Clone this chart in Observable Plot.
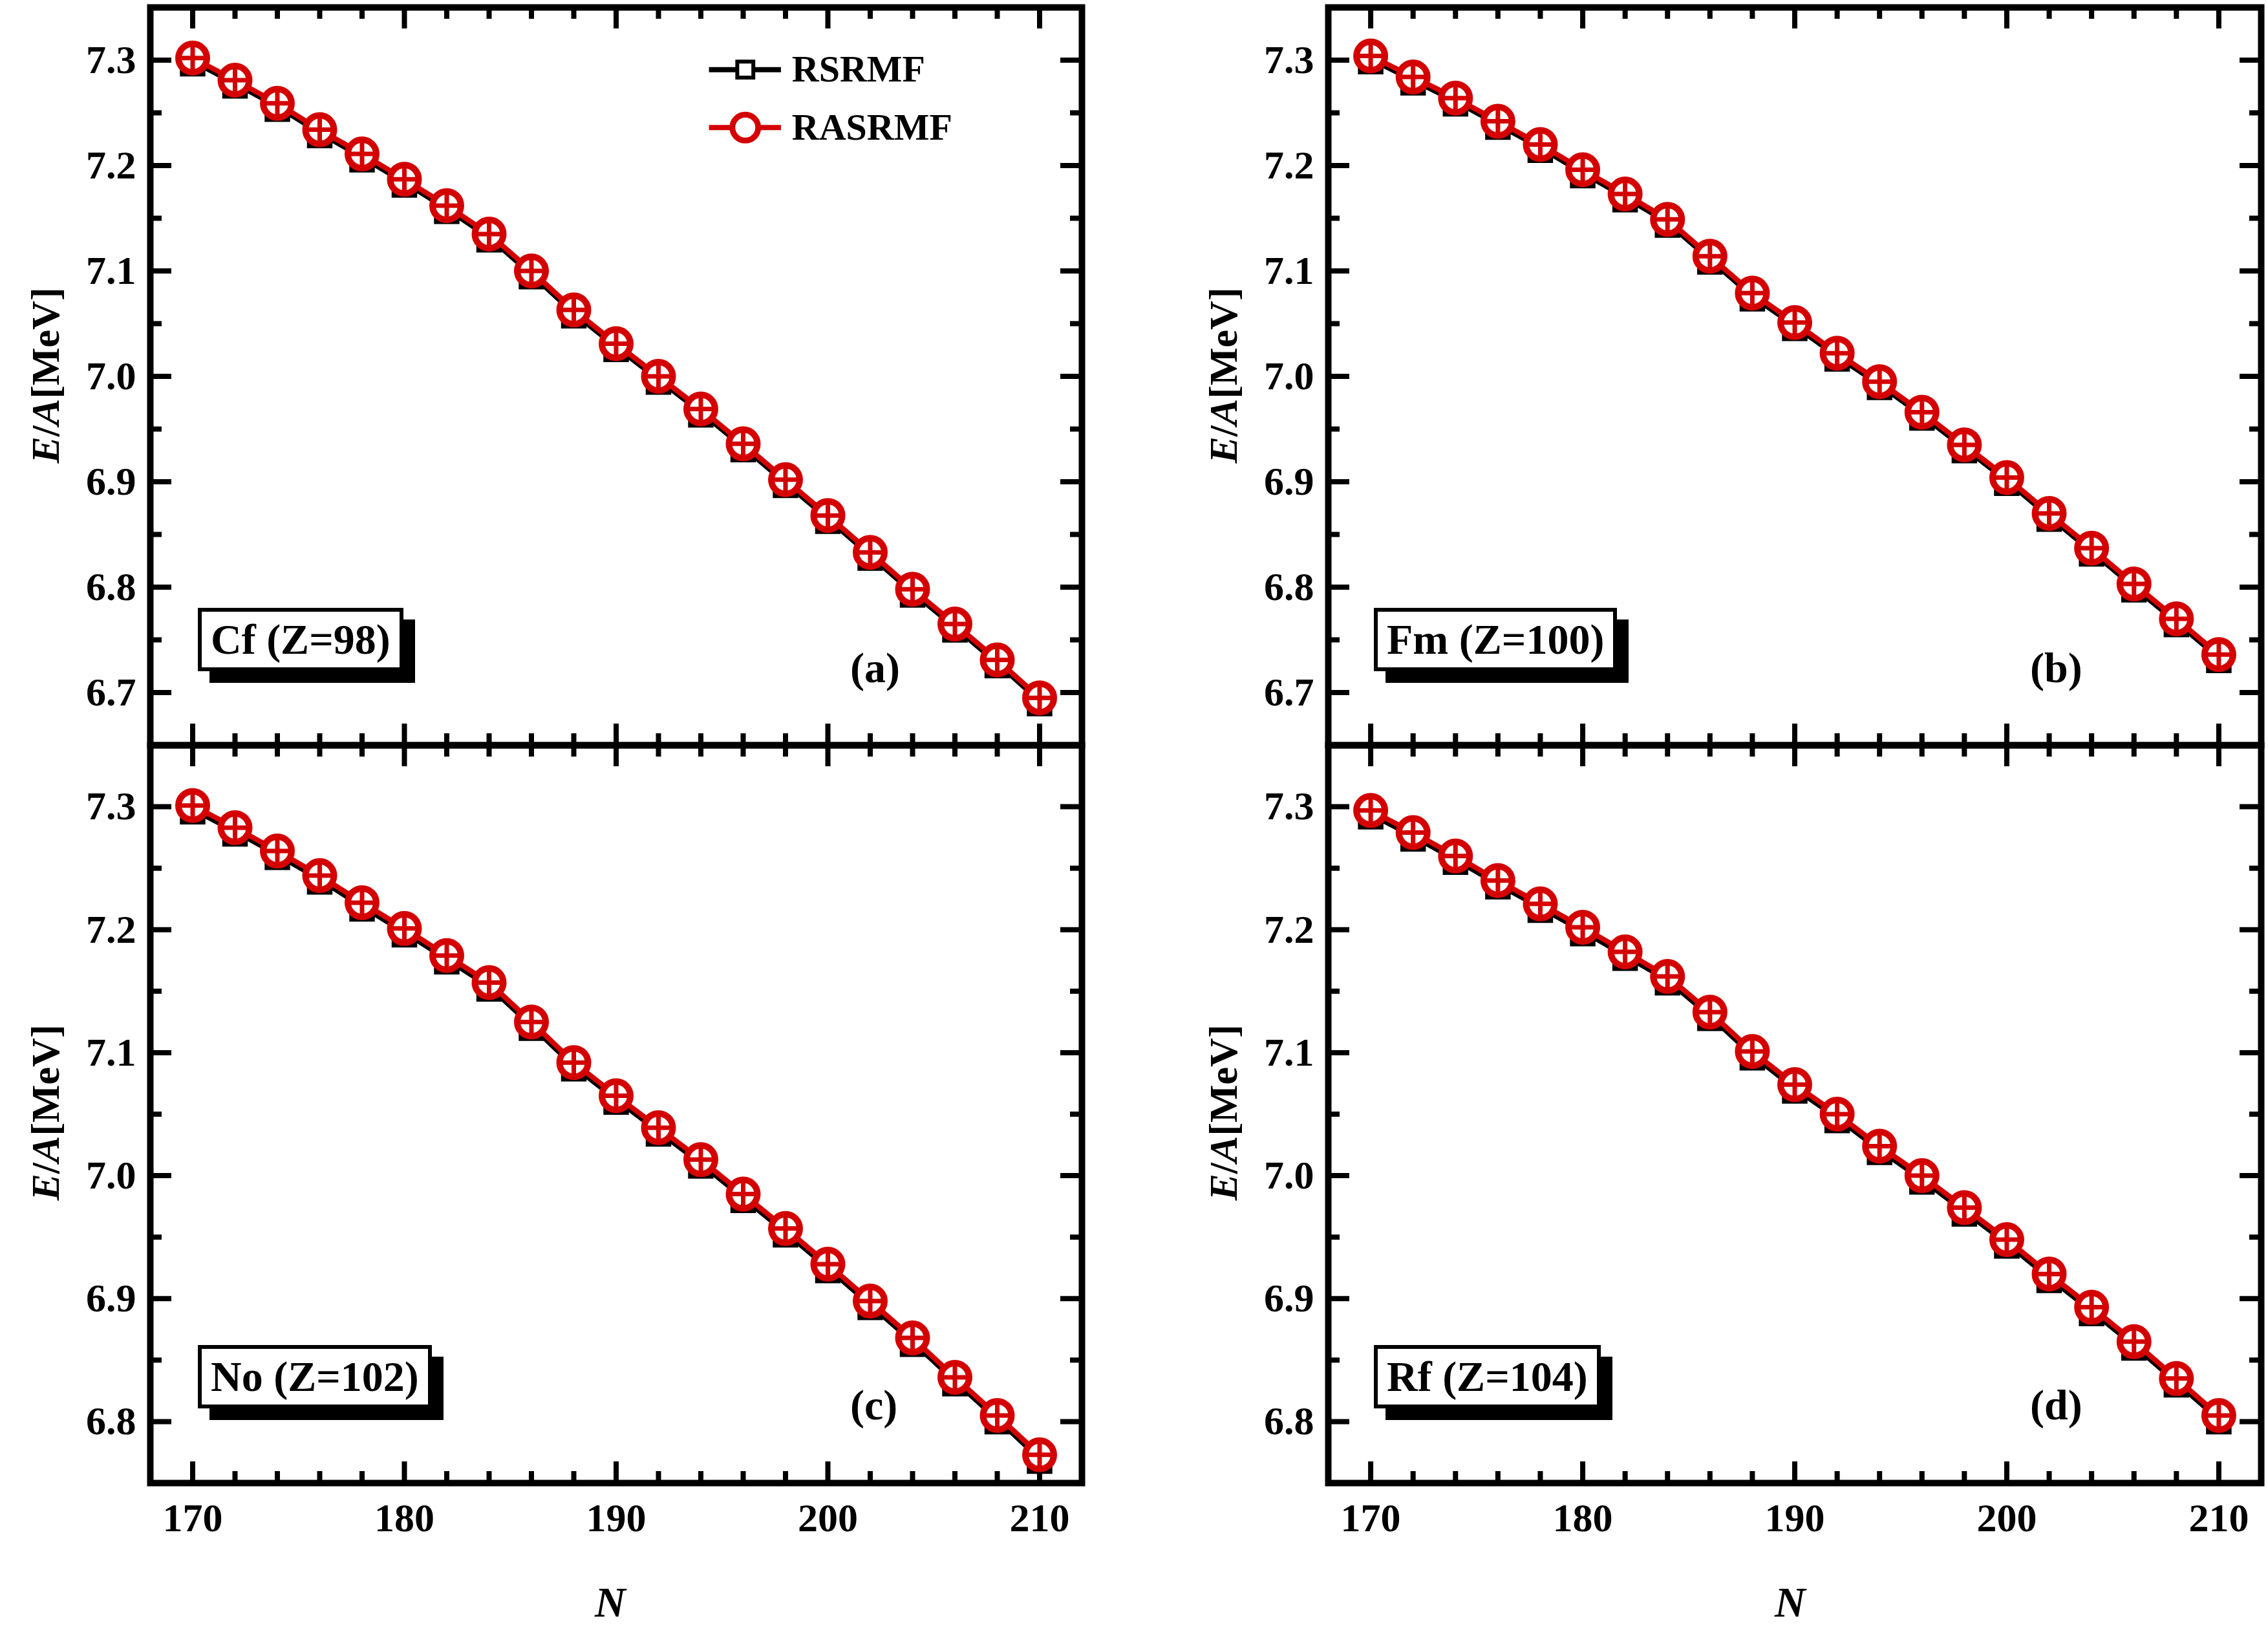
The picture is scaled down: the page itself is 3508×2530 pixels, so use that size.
<!DOCTYPE html>
<html><head><meta charset="utf-8">
<script src="https://cdn.jsdelivr.net/npm/d3@7"></script>
<script src="https://cdn.jsdelivr.net/npm/@observablehq/plot@0.6"></script>
<style>
body{margin:0;background:#fff;width:3508px;height:2530px;position:relative;overflow:hidden;font-family:"Liberation Serif","DejaVu Serif",serif;font-weight:bold}
.pl{position:absolute}
.box{position:absolute;background:#fff;border:6px solid #000;box-shadow:18px 18px 0 #000;font-size:66px;line-height:86px;padding:0 14px;white-space:nowrap}
.let{position:absolute;font-size:66px}
.yl{position:absolute;font-size:62px;transform:rotate(-90deg);transform-origin:center;white-space:nowrap}
.xl{position:absolute;font-size:66px;font-style:italic}
</style></head><body>
<script>
const N = [170,172,174,176,178,180,182,184,186,188,190,192,194,196,198,200,202,204,206,208,210];
const cf = [7.302,7.281,7.259,7.234,7.211,7.187,7.162,7.135,7.100,7.063,7.031,7.000,6.969,6.936,6.902,6.868,6.833,6.798,6.765,6.731,6.695];
const fm = [7.304,7.284,7.264,7.242,7.220,7.196,7.173,7.149,7.114,7.079,7.051,7.022,6.995,6.966,6.935,6.904,6.870,6.837,6.803,6.770,6.736];
const no = [7.301,7.283,7.264,7.244,7.222,7.201,7.179,7.157,7.125,7.092,7.065,7.039,7.013,6.985,6.957,6.928,6.898,6.868,6.836,6.805,6.773];
const rf = [7.297,7.279,7.260,7.240,7.221,7.202,7.182,7.162,7.133,7.101,7.074,7.050,7.024,7.000,6.974,6.948,6.920,6.893,6.865,6.835,6.805];
// RSRMF values (black) — nearly identical, marginally lower
const cfRS = cf.map(v=>v-0.003), fmRS = fm.map(v=>v-0.003), noRS = no.map(v=>v-0.003), rfRS = rf.map(v=>v-0.003);
const xMajor = [170,180,190,200,210];
const xMinor = d3.range(168,213,2).filter(v=>v%10!==0);
const yTicksTop = [6.7,6.8,6.9,7.0,7.1,7.2,7.3];
const yTicksBot = [6.8,6.9,7.0,7.1,7.2,7.3];
const legendNames = ["RSRMF","RASRMF"];

const FL=232, FR=1673, FL2=2054, FR2=3497, FT=11, FM=1152, FB=2293;
const RED="#d40000";

function panel({left, top, frameL, frameR, frameT, frameB, ydom, yt, ras, rs, xlabels, legend}){
  const mL=frameL-left, mT=frameT-top, iw=frameR-frameL, ih=frameB-frameT;
  const mB = xlabels?140:0;
  const xd=[168,212];
  const xl=(44)/iw, yl=(ydom[1]-ydom[0])/ih;
  const maj=33, mn=18;
  const yMinor=d3.range(Math.round(ydom[0]*20), Math.round(ydom[1]*20)+1).map(v=>v/20).filter(v=>Math.round(v*20)%2===1);
  const data = N.map((n,i)=>({n, a:ras[i], b:rs[i]}));
  const tick=(vals,len,axis)=> axis==="x" ? [
      Plot.ruleX(vals,{x:d=>d,y1:ydom[0],y2:ydom[0]+len*yl,stroke:"#000",strokeWidth:8}),
      Plot.ruleX(vals,{x:d=>d,y1:ydom[1],y2:ydom[1]-len*yl,stroke:"#000",strokeWidth:8})
    ] : [
      Plot.ruleY(vals,{y:d=>d,x1:xd[0],x2:xd[0]+len*xl,stroke:"#000",strokeWidth:8}),
      Plot.ruleY(vals,{y:d=>d,x1:xd[1],x2:xd[1]-len*xl,stroke:"#000",strokeWidth:8})
    ];
  const marks=[
    ...tick(xMajor,maj,"x"), ...tick(xMinor,mn,"x"),
    ...tick(yt,maj,"y"), ...tick(yMinor,mn,"y"),
    Plot.axisY({ticks:yt,tickSize:0,tickPadding:22,tickFormat:d3.format(".1f"),fontSize:62,fontWeight:"bold",label:null}),
    Plot.line(data,{x:"n",y:"b",stroke:"#000",strokeWidth:8}),
    Plot.dot(data,{x:"n",y:"b",symbol:"square",r:20,fill:"#000",stroke:"#000",strokeWidth:4,dy:4}),
    Plot.line(data,{x:"n",y:"a",stroke:RED,strokeWidth:8}),
    Plot.dot(data,{x:"n",y:"a",r:22,fill:"#fff",stroke:RED,strokeWidth:10}),
    Plot.ruleX(data,{x:"n",y:"a",dy:0,stroke:RED,strokeWidth:6,insetTop:0}),
    Plot.frame({stroke:"#000",strokeWidth:10})
  ];
  // crosses inside circles
  marks.splice(marks.length-2,1,
    Plot.tickX(data,{x:"n",y:"a",stroke:RED,strokeWidth:7}),
    Plot.tickY(data,{x:"n",y:"a",stroke:RED,strokeWidth:7}));
  if(xlabels) marks.push(Plot.axisX({ticks:xMajor,tickSize:0,tickPadding:30,fontSize:62,fontWeight:"bold",label:null}));
  if(legend){
    const lx1=194.4,lx2=197.8,lc=196.1,tx=198.3,ly1=7.291,ly2=7.236;
    marks.push(
      Plot.ruleY([ly1],{x1:lx1,x2:lx2,stroke:"#000",strokeWidth:8}),
      Plot.dot([lc],{x:d=>d,y:ly1,symbol:"square",r:14,fill:"#fff",stroke:"#000",strokeWidth:6}),
      Plot.dot([lc],{x:d=>d,y:ly1,symbol:"plus",r:12,fill:"#000"}),
      Plot.text([legendNames[0]],{x:tx,y:ly1,text:d=>d,textAnchor:"start",fontSize:58,fontWeight:"bold"}),
      Plot.ruleY([ly2],{x1:lx1,x2:lx2,stroke:RED,strokeWidth:8}),
      Plot.dot([lc],{x:d=>d,y:ly2,r:20,fill:"#fff",stroke:RED,strokeWidth:9}),
      Plot.dot([lc],{x:d=>d,y:ly2,symbol:"plus",r:15,fill:RED}),
      Plot.text([legendNames[1]],{x:tx,y:ly2,text:d=>d,textAnchor:"start",fontSize:58,fontWeight:"bold"})
    );
  }
  const p=Plot.plot({
    width:mL+iw+20, height:mT+ih+mB,
    marginLeft:mL, marginRight:20, marginTop:mT, marginBottom:mB,
    x:{domain:xd, axis:null}, y:{domain:ydom, axis:null},
    style:{fontFamily:"Liberation Serif, DejaVu Serif, serif",overflow:"visible",background:"transparent"},
    marks
  });
  p.classList.add("pl");
  p.style.left=left+"px"; p.style.top=top+"px";
  document.body.appendChild(p);
}
// tickX/tickY are band-based; use custom lengths via inset instead
Plot.tickX = (d,o)=>Plot.ruleX(d,{x:o.x,y:o.y,dy:0,stroke:o.stroke,strokeWidth:o.strokeWidth,y1:o.y,y2:o.y,marker:null,
  transform:null, ...{}}); 
</script>
<script>
// crosses are drawn as short rules in pixel offsets via text glyph-free approach
Plot.tickX = (d,o)=>Plot.dot(d,{x:o.x,y:o.y,symbol:{draw(c,s){const r=20;c.moveTo(0,-r);c.lineTo(0,r);}},r:20,stroke:o.stroke,strokeWidth:o.strokeWidth,fill:"none"});
Plot.tickY = (d,o)=>Plot.dot(d,{x:o.x,y:o.y,symbol:{draw(c,s){const r=20;c.moveTo(-r,0);c.lineTo(r,0);}},r:20,stroke:o.stroke,strokeWidth:o.strokeWidth,fill:"none"});

panel({left:0,top:0,frameL:FL,frameR:FR,frameT:FT,frameB:FM,ydom:[6.65,7.35],yt:yTicksTop,ras:cf,rs:cfRS,xlabels:false,legend:true});
panel({left:1822,top:0,frameL:FL2,frameR:FR2,frameT:FT,frameB:FM,ydom:[6.65,7.35],yt:yTicksTop,ras:fm,rs:fmRS,xlabels:false});
panel({left:0,top:FM,frameL:FL,frameR:FR,frameT:FM,frameB:FB,ydom:[6.75,7.35],yt:yTicksBot,ras:no,rs:noRS,xlabels:true});
panel({left:1822,top:FM,frameL:FL2,frameR:FR2,frameT:FM,frameB:FB,ydom:[6.75,7.35],yt:yTicksBot,ras:rf,rs:rfRS,xlabels:true});

function add(cls,html,css){const e=document.createElement("div");e.className=cls;e.innerHTML=html;Object.assign(e.style,css);document.body.appendChild(e);}
add("box","Cf (Z=98)",{left:"306px",top:"940px"});
add("box","Fm (Z=100)",{left:"2125px",top:"940px"});
add("box","No (Z=102)",{left:"306px",top:"2080px"});
add("box","Rf (Z=104)",{left:"2125px",top:"2080px"});
add("let","(a)",{left:"1315px",top:"995px"});
add("let","(b)",{left:"3140px",top:"995px"});
add("let","(c)",{left:"1315px",top:"2135px"});
add("let","(d)",{left:"3140px",top:"2135px"});
for(const [x,y] of [[-110,545],[1712,545],[-110,1685],[1712,1685]])
  add("yl","<i>E</i>/<i>A</i>[MeV]",{left:x+"px",top:y+"px",width:"360px",textAlign:"center"});
add("xl","N",{left:"920px",top:"2440px"});
add("xl","N",{left:"2745px",top:"2440px"});
</script>
</body></html>
